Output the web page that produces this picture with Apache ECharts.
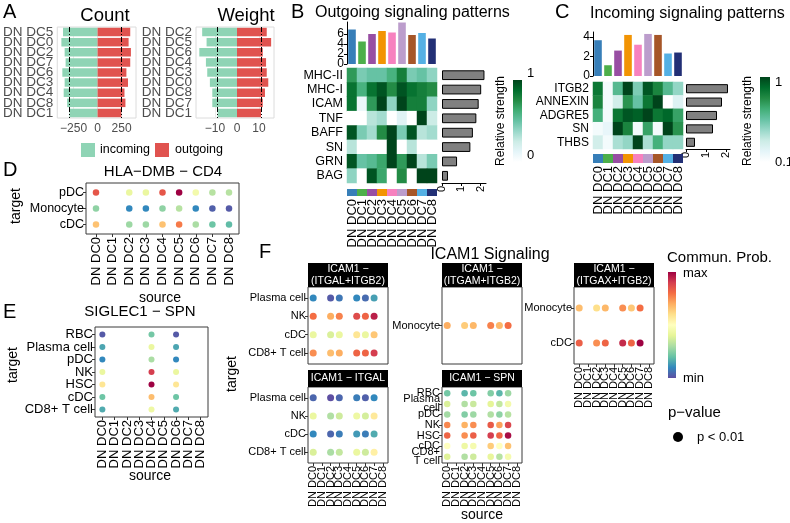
<!DOCTYPE html>
<html>
<head>
<meta charset="utf-8">
<script src="https://cdn.jsdelivr.net/npm/echarts@6/dist/echarts.min.js"></script>
<style>
html,body{margin:0;padding:0;background:#ffffff;}
#chart{width:790px;height:523px;}
</style>
</head>
<body>
<div id="chart"></div>
<script>
// ================= DATA =================
const dcCategories = ['DN DC0','DN DC1','DN DC2','DN DC3','DN DC4','DN DC5','DN DC6','DN DC7','DN DC8'];
const dcPalette = ['#377EB8','#4DAF4A','#984EA3','#F29403','#F781BF','#BC9DCC','#A65628','#54B0E4','#222F75'];

// Panel A - Count
const countCategories = ['DN DC5','DN DC0','DN DC2','DN DC7','DN DC6','DN DC3','DN DC4','DN DC8','DN DC1'];
const countIncoming = [360,377,343,333,367,343,353,317,293];
const countOutgoing = [340,323,347,340,300,317,280,290,247];
const countRefLines = [-293, 247];
const countTicks = [-250, 0, 250];
// Panel A - Weight
const weightCategories = ['DN DC2','DN DC5','DN DC6','DN DC4','DN DC3','DN DC0','DN DC8','DN DC7','DN DC1'];
const weightIncoming = [15.8,13.8,17.1,14.1,13.5,12.3,11.2,11.2,8.8];
const weightOutgoing = [13.5,15.5,11.7,13.2,13.5,14.2,12.7,11.7,10.9];
const weightRefLines = [-8.8, 10.9];
const weightTicks = [-10, 0, 10];

// Panel B - outgoing
const outPathways = ['MHC-II','MHC-I','ICAM','TNF','BAFF','SN','GRN','BAG'];
const outColTotals = [6.9,4.5,6.0,6.6,6.3,8.3,5.8,6.2,5.1];
const outStrength = [
  [0.70,0.45,0.50,0.50,0.60,0.80,0.45,0.50,0.40],
  [0.85,0.60,0.85,0.95,0.75,0.95,0.85,0.80,0.75],
  [0.85,0.10,0.70,1.00,0.40,1.00,0.80,0.80,0.40],
  [0.00,0.00,0.30,0.35,0.00,0.15,0.00,1.00,0.25],
  [0.95,0.45,0.35,0.75,1.00,0.45,0.95,0.30,0.35],
  [0.30,0.00,0.00,0.00,1.00,0.00,0.30,0.00,0.00],
  [0.95,0.50,0.55,0.65,1.00,0.70,1.00,0.30,0.45],
  [0.40,0.00,0.95,0.65,0.00,0.75,0.00,1.00,1.00]
];
const outRowTotals = [2.2,2.03,1.9,1.78,1.6,1.47,0.78,0.31];
const outColTicks = [0,2,4,6];
const outRowTicks = [0,1,2];

// Panel C - incoming
const inPathways = ['ITGB2','ANNEXIN','ADGRE5','SN','THBS'];
const inColTotals = [3.66,1.1,2.6,4.2,3.2,4.3,4.2,2.3,2.4];
const inStrength = [
  [0.85,0.15,0.60,1.00,0.50,0.95,0.80,0.60,0.45],
  [0.80,0.15,0.30,0.75,0.55,0.85,1.00,0.10,0.25],
  [0.65,0.15,0.85,0.95,0.92,1.00,0.85,0.90,0.70],
  [0.15,0.20,1.00,0.80,0.15,0.70,0.15,1.00,0.75],
  [0.30,0.15,0.40,0.45,1.00,0.40,0.65,0.45,0.45]
];
const inRowTotals = [2.1,1.8,1.55,1.35,0.45];
const inColTicks = [0,2,4];
const inRowTicks = [0,1,2];

// Panel D - HLA-DMB - CD4
const dTargets = ['pDC','Monocyte','cDC'];
const dProb = [
  [0.85,null,0.42,0.42,0.85,1.00,0.45,0.32,0.32],
  [0.26,null,0.10,0.10,0.26,0.32,0.10,0.03,0.02],
  [0.66,null,0.28,0.28,0.66,0.78,0.30,0.21,0.19]
];
// Panel E - SIGLEC1 - SPN
const eTargets = ['RBC','Plasma cell','pDC','NK','HSC','cDC','CD8+ T cell'];
const eProb = [
  [0.02,null,null,null,0.22,null,0.02,null,null],
  [0.15,null,null,null,0.42,null,0.15,null,null],
  [0.10,null,null,null,0.30,null,0.10,null,null],
  [0.42,null,null,null,0.90,null,0.42,null,null],
  [0.58,null,null,null,1.00,null,0.58,null,null],
  [0.21,null,null,null,0.67,null,0.21,null,null],
  [0.16,null,null,null,0.43,null,0.16,null,null]
];
// Panel F - ICAM1 signaling
const f1Title = 'ICAM1 \u2212\n(ITGAL+ITGB2)';
const f1Targets = ['Plasma cell','NK','cDC','CD8+ T cell'];
const f1Prob = [
  [0.10,null,0.02,0.07,null,0.10,0.05,0.14,null],
  [0.80,null,0.70,0.77,null,0.87,0.82,0.95,null],
  [0.42,null,0.38,0.42,null,0.58,0.42,0.65,null],
  [0.75,null,0.67,0.70,null,0.82,0.82,0.90,null]
];
const f2Title = 'ICAM1 \u2212\n(ITGAM+ITGB2)';
const f2Targets = ['Monocyte'];
const f2Prob = [
  [0.70,null,0.64,0.68,null,0.77,0.68,0.80,null]
];
const f3Title = 'ICAM1 \u2212\n(ITGAX+ITGB2)';
const f3Targets = ['Monocyte','cDC'];
const f3Prob = [
  [0.67,null,0.60,0.68,null,0.75,0.65,0.80,null],
  [0.83,null,0.75,0.82,null,0.93,0.82,1.00,null]
];
const f4Title = 'ICAM1 \u2212 ITGAL';
const f4Targets = ['Plasma cell','NK','cDC','CD8+ T cell'];
const f4Prob = [
  [0.04,null,0.00,0.04,null,0.08,0.03,0.10,null],
  [0.42,null,0.31,0.36,null,0.43,0.37,0.57,null],
  [0.10,null,0.04,0.08,null,0.13,0.08,0.16,null],
  [0.38,null,0.30,0.34,null,0.42,0.36,0.55,null]
];
const f5Title = 'ICAM1 \u2212 SPN';
const f5Targets = ['RBC','Plasma\ncell','pDC','NK','HSC','cDC','CD8+\nT cell'];
const f5Prob = [
  [0.22,null,0.18,0.21,null,0.24,0.18,0.28,null],
  [0.38,null,0.31,0.35,null,0.40,0.34,0.45,null],
  [0.29,null,0.24,0.28,null,0.31,0.26,0.32,null],
  [0.76,null,0.69,0.75,null,0.84,0.72,0.88,null],
  [0.82,null,0.75,0.83,null,0.90,0.82,0.98,null],
  [0.50,null,0.43,0.46,null,0.64,0.50,0.66,null],
  [0.39,null,0.31,0.36,null,0.41,0.32,0.46,null]
];

// ================= STYLE =================
const FF = '"Liberation Sans", Arial, Helvetica, sans-serif';
const INC = '#8fd4b5', OUT = '#e0534f';
const spectral = ['#5E4FA2','#3288BD','#66C2A5','#ABDDA4','#E6F598','#FFFFBF','#FEE08B','#FDAE61','#F46D43','#D53E4F','#9E0142'];
const buGn = ['#ffffff','#e5f5f9','#ccece6','#99d8c9','#66c2a4','#41ae76','#238b45','#006d2c','#00441b'];
const LBL = {showMinLabel: true, showMaxLabel: true, hideOverlap: false};

const grids = [], xAxes = [], yAxes = [], series = [], graphics = [];
const extraYAxes = [];
const dotSeries = [];

function addGrid(rect, xa, ya) {
  const i = grids.length;
  grids.push(Object.assign({containLabel: false}, rect));
  xa.gridIndex = i; ya.gridIndex = i;
  xAxes.push(xa); yAxes.push(ya);
  return i;
}
function hiddenCat(data, inverse) { return {type: 'category', data: data, inverse: !!inverse, show: false, axisLine: {onZero: false}}; }
function txt(x, y, text, size, o) {
  o = o || {};
  graphics.push({type: 'text', x: x, y: y, rotation: o.rot || 0, silent: true, z: 100,
    style: {text: text, fontSize: size, fontFamily: FF, fill: o.fill || '#000',
      textAlign: o.align || 'left', textVerticalAlign: o.va || 'middle', lineHeight: o.lh || undefined}});
}
function box(x, y, w, h, fill, stroke) {
  graphics.push({type: 'rect', silent: true, z: 99, shape: {x: x, y: y, width: w, height: h},
    style: {fill: fill, stroke: stroke || null, lineWidth: 1}});
}
function gradRect(x, y, w, h, colorsTopToBottom) {
  graphics.push({type: 'rect', silent: true, z: 99, shape: {x: x, y: y, width: w, height: h},
    style: {fill: {type: 'linear', x: 0, y: 0, x2: 0, y2: 1,
      colorStops: colorsTopToBottom.map(function (c, i, a) { return {offset: i / (a.length - 1), color: c}; })}}});
}

// ---------- Panel A ----------
function butterfly(rect, cats, inc, out, ticks, min, max, refs) {
  const g = addGrid(Object.assign({show: true, borderColor: '#dcdcdc', borderWidth: 1}, rect),
    {type: 'value', min: min, max: max,
      axisLine: {show: false, onZero: false},
      axisTick: {show: false, customValues: ticks},
      axisLabel: Object.assign({customValues: ticks, formatter: function (v) { return v < 0 ? '\u2212' + Math.abs(v) : String(v); },
        color: '#4d4d4d', fontSize: 12, fontFamily: FF, margin: 5}, LBL),
      splitLine: {show: true, lineStyle: {color: '#ebebeb', width: 1}}},
    {type: 'category', data: cats, inverse: true,
      axisLine: {show: false, onZero: false}, axisTick: {show: false},
      axisLabel: Object.assign({color: '#4d4d4d', fontSize: 13.5, fontFamily: FF, margin: 4, interval: 0}, LBL),
      splitLine: {show: false}});
  series.push({type: 'bar', xAxisIndex: g, yAxisIndex: g, data: inc.map(function (v) { return -v; }),
    barWidth: 8.5, barGap: '-100%', itemStyle: {color: INC}, silent: true});
  series.push({type: 'bar', xAxisIndex: g, yAxisIndex: g, data: out,
    barWidth: 8.5, barGap: '-100%', itemStyle: {color: OUT}, silent: true,
    markLine: {silent: true, symbol: 'none', label: {show: false},
      lineStyle: {color: '#000', type: [5, 2, 1, 2], width: 1},
      data: refs.map(function (v) { return {xAxis: v}; })}});
}
butterfly({left: 54, top: 27, width: 82, height: 91}, countCategories, countIncoming, countOutgoing, countTicks, -420, 400, countRefLines);
butterfly({left: 196, top: 27, width: 78, height: 91}, weightCategories, weightIncoming, weightOutgoing, weightTicks, -18.6, 16.8, weightRefLines);

// ---------- Panels B / C ----------
function heatPanel(cfg) {
  // tick labels are split over two overlaid axes so that closely spaced labels are all kept
  const evenTicks = cfg.barTicks.filter(function (_, i) { return i % 2 === 0; });
  const oddTicks = cfg.barTicks.filter(function (_, i) { return i % 2 === 1; });
  const labelStyle = {fontSize: 12, color: '#000', fontFamily: FF, margin: 3};
  const gb = addGrid({left: cfg.left, top: cfg.barTop, width: cfg.width, height: cfg.barH},
    hiddenCat(dcCategories),
    {type: 'value', min: 0, max: cfg.barMax, position: 'left',
      axisLine: {show: true, onZero: false, lineStyle: {color: '#000', width: 1}},
      axisTick: {show: true, customValues: cfg.barTicks, length: 3, lineStyle: {color: '#000'}},
      axisLabel: Object.assign({customValues: evenTicks}, labelStyle, LBL),
      splitLine: {show: false}});
  extraYAxes.push({gridIndex: gb, type: 'value', min: 0, max: cfg.barMax, position: 'left', offset: 0,
    axisLine: {show: false, onZero: false}, axisTick: {show: false, customValues: oddTicks},
    axisLabel: Object.assign({customValues: oddTicks}, labelStyle, LBL), splitLine: {show: false}});
  series.push({type: 'bar', xAxisIndex: gb, yAxisIndex: gb, data: cfg.colTotals, barCategoryGap: '24%',
    itemStyle: {color: function (p) { return dcPalette[p.dataIndex]; }}, silent: true});

  const gh = addGrid({left: cfg.left, top: cfg.heatTop, width: cfg.width, height: cfg.heatH},
    hiddenCat(dcCategories),
    {type: 'category', data: cfg.rows, inverse: true, axisLine: {show: false, onZero: false}, axisTick: {show: false},
      axisLabel: Object.assign({interval: 0, fontSize: cfg.rowFont, color: '#000', fontFamily: FF, margin: 4}, LBL)});
  const hd = [];
  cfg.matrix.forEach(function (row, r) { row.forEach(function (v, c) { hd.push([c, r, v]); }); });
  series.push({type: 'heatmap', xAxisIndex: gh, yAxisIndex: gh, data: hd, silent: true});
  const heatIdx = series.length - 1;

  const gs = addGrid({left: cfg.left, top: cfg.stripTop, width: cfg.width, height: cfg.stripH},
    {type: 'category', data: dcCategories, axisLine: {show: false, onZero: false}, axisTick: {show: false},
      axisLabel: Object.assign({interval: 0, rotate: 90, fontSize: cfg.colFont, color: '#000', fontFamily: FF, margin: 3}, LBL)},
    {type: 'value', min: 0, max: 1, show: false});
  series.push({type: 'bar', xAxisIndex: gs, yAxisIndex: gs, data: dcCategories.map(function () { return 1; }),
    barCategoryGap: '0%', itemStyle: {color: function (p) { return dcPalette[p.dataIndex]; }}, silent: true});

  const gr = addGrid({left: cfg.rbLeft, top: cfg.heatTop, width: cfg.rbWidth, height: cfg.heatH},
    {type: 'value', min: 0, max: cfg.rbMax,
      axisLine: {show: true, onZero: false, lineStyle: {color: '#000', width: 1}},
      axisTick: {show: true, customValues: cfg.rbTicks, length: 3, lineStyle: {color: '#000'}},
      axisLabel: Object.assign({customValues: cfg.rbTicks, rotate: 90, fontSize: 11, color: '#000', fontFamily: FF, margin: 3}, LBL),
      splitLine: {show: false}},
    hiddenCat(cfg.rows, true));
  series.push({type: 'bar', xAxisIndex: gr, yAxisIndex: gr, data: cfg.rowTotals, barCategoryGap: '32%',
    itemStyle: {color: '#808080', borderColor: '#000', borderWidth: 1}, silent: true});
  return heatIdx;
}
const heatB = heatPanel({left: 347, width: 90, barTop: 22, barH: 42, barMax: 8.4, barTicks: outColTicks,
  colTotals: outColTotals, heatTop: 68, heatH: 115, rows: outPathways, matrix: outStrength, rowFont: 12.5,
  stripTop: 189, stripH: 7, colFont: 13, rbLeft: 442, rbWidth: 44, rbMax: 2.28, rbTicks: outRowTicks, rowTotals: outRowTotals});
const heatC = heatPanel({left: 593, width: 90, barTop: 32, barH: 44, barMax: 4.5, barTicks: inColTicks,
  colTotals: inColTotals, heatTop: 82, heatH: 67, rows: inPathways, matrix: inStrength, rowFont: 12,
  stripTop: 154, stripH: 9, colFont: 13, rbLeft: 686, rbWidth: 44, rbMax: 2.2, rbTicks: inRowTicks, rowTotals: inRowTotals});

// ---------- Dot plots D / E / F ----------
function catAxis(cats, show, font, isY, off, lh) {
  return {type: 'category', data: cats, inverse: !!isY, offset: off,
    axisLine: {show: false, onZero: false}, splitLine: {show: false},
    axisTick: {show: show, alignWithLabel: true, interval: 0, length: 3, lineStyle: {color: '#333', width: 1}},
    axisLabel: Object.assign({show: show, interval: 0, rotate: isY ? 0 : 90, fontSize: font, color: '#000',
      fontFamily: FF, margin: isY ? 2 : 3, lineHeight: lh}, LBL)};
}
function dotPanel(rect, targets, matrix, o) {
  // ggplot-style discrete expansion of 0.6 units on each side
  const nx = dcCategories.length, ny = targets.length;
  const sx = rect.width / (nx + 0.2), sy = rect.height / (ny + 0.2);
  const inner = {left: rect.left + 0.1 * sx, top: rect.top + 0.1 * sy, width: nx * sx, height: ny * sy};
  const g = addGrid(inner,
    catAxis(dcCategories, o.showX, o.xFont, false, 0.1 * sy),
    catAxis(targets, true, o.yFont, true, 0.1 * sx, o.lh));
  graphics.push({type: 'rect', silent: true, z: 98, shape: {x: rect.left, y: rect.top, width: rect.width, height: rect.height},
    style: {fill: 'transparent', stroke: '#3a3a3a', lineWidth: 1}});
  const data = [];
  matrix.forEach(function (row, r) { row.forEach(function (v, c) { if (v !== null) data.push([c, r, v]); }); });
  series.push({type: 'scatter', xAxisIndex: g, yAxisIndex: g, data: data, symbolSize: o.size,
    itemStyle: {opacity: 1}, silent: true});
  dotSeries.push(series.length - 1);
}
dotPanel({left: 86, top: 183, width: 153, height: 51}, dTargets, dProb, {showX: true, xFont: 13, yFont: 12.5, size: 6.5});
dotPanel({left: 95, top: 327, width: 113, height: 90}, eTargets, eProb, {showX: true, xFont: 13, yFont: 13, size: 6});
dotPanel({left: 308, top: 287, width: 80, height: 77}, f1Targets, f1Prob, {showX: false, xFont: 11, yFont: 11, size: 7});
dotPanel({left: 442, top: 287, width: 80, height: 77}, f2Targets, f2Prob, {showX: false, xFont: 11, yFont: 11, size: 7});
dotPanel({left: 574, top: 287, width: 80, height: 77}, f3Targets, f3Prob, {showX: true, xFont: 11, yFont: 11, size: 7});
dotPanel({left: 308, top: 387, width: 80, height: 76}, f4Targets, f4Prob, {showX: true, xFont: 11, yFont: 11, size: 7});
dotPanel({left: 442, top: 387, width: 80, height: 76}, f5Targets, f5Prob, {showX: true, xFont: 11, yFont: 11, size: 6.5, lh: 9});

// ---------- Text & legends ----------
txt(3, 12, 'A', 20);
txt(105, 16, 'Count', 18.5, {align: 'center'});
txt(246, 16, 'Weight', 18.5, {align: 'center'});
box(81, 143, 14, 14, INC); txt(100, 150, 'incoming', 12.5);
box(155, 143, 14, 14, OUT); txt(175, 150, 'outgoing', 12.5);

txt(291, 12, 'B', 20);
txt(315, 13, 'Outgoing signaling patterns', 16);
txt(501, 121, 'Relative strength', 12, {rot: Math.PI / 2, align: 'center'});
gradRect(513, 80, 9, 82, buGn.slice().reverse());
txt(527, 73, '1', 13); txt(527, 155, '0', 13);

txt(555, 12, 'C', 20);
txt(590, 14, 'Incoming signaling patterns', 16);
txt(748, 121, 'Relative strength', 12, {rot: Math.PI / 2, align: 'center'});
gradRect(760, 77, 10, 85, buGn.slice().reverse());
txt(775, 82, '1', 13); txt(775, 162, '0.1', 13);

txt(3, 170, 'D', 20);
txt(163, 172, 'HLA\u2212DMB \u2212 CD4', 15, {align: 'center'});
txt(16, 206, 'target', 14, {rot: Math.PI / 2, align: 'center'});
txt(160, 298, 'source', 14, {align: 'center'});

txt(3, 312, 'E', 20);
txt(140, 312, 'SIGLEC1 \u2212 SPN', 15, {align: 'center'});
txt(13, 365, 'target', 14, {rot: Math.PI / 2, align: 'center'});
txt(150, 476, 'source', 14, {align: 'center'});

txt(259, 252, 'F', 20);
txt(490, 255, 'ICAM1 Signaling', 16, {align: 'center'});
txt(232, 374, 'target', 14, {rot: Math.PI / 2, align: 'center'});
txt(482, 515, 'source', 14, {align: 'center'});
[[308, 263, 24, f1Title], [442, 263, 24, f2Title], [574, 263, 24, f3Title], [308, 370, 17, f4Title], [442, 370, 17, f5Title]].forEach(function (s) {
  box(s[0], s[1], 80, s[2], '#000');
  txt(s[0] + 40, s[1] + s[2] / 2, s[3], 10.5, {align: 'center', fill: '#fff', lh: 12});
});
txt(667, 258, 'Commun. Prob.', 15);
gradRect(668, 272, 8, 106, spectral.slice().reverse());
txt(683, 273, 'max', 13); txt(683, 378, 'min', 13);
txt(668, 413, 'p\u2212value', 15);
graphics.push({type: 'circle', silent: true, z: 99, shape: {cx: 678, cy: 437, r: 5}, style: {fill: '#000'}});
txt(697, 437, 'p < 0.01', 13);

const chart = echarts.init(document.getElementById('chart'));
chart.setOption({
  backgroundColor: '#ffffff',
  animation: false,
  textStyle: {fontFamily: FF},
  grid: grids,
  xAxis: xAxes,
  yAxis: yAxes.concat(extraYAxes),
  visualMap: [
    {type: 'continuous', show: false, min: 0, max: 1, dimension: 2, seriesIndex: heatB, inRange: {color: buGn}},
    {type: 'continuous', show: false, min: 0.1, max: 1, dimension: 2, seriesIndex: heatC, inRange: {color: buGn}},
    {type: 'continuous', show: false, min: 0, max: 1, dimension: 2, seriesIndex: dotSeries, inRange: {color: spectral}}
  ],
  series: series,
  graphic: {elements: graphics}
});
</script>
</body>
</html>
